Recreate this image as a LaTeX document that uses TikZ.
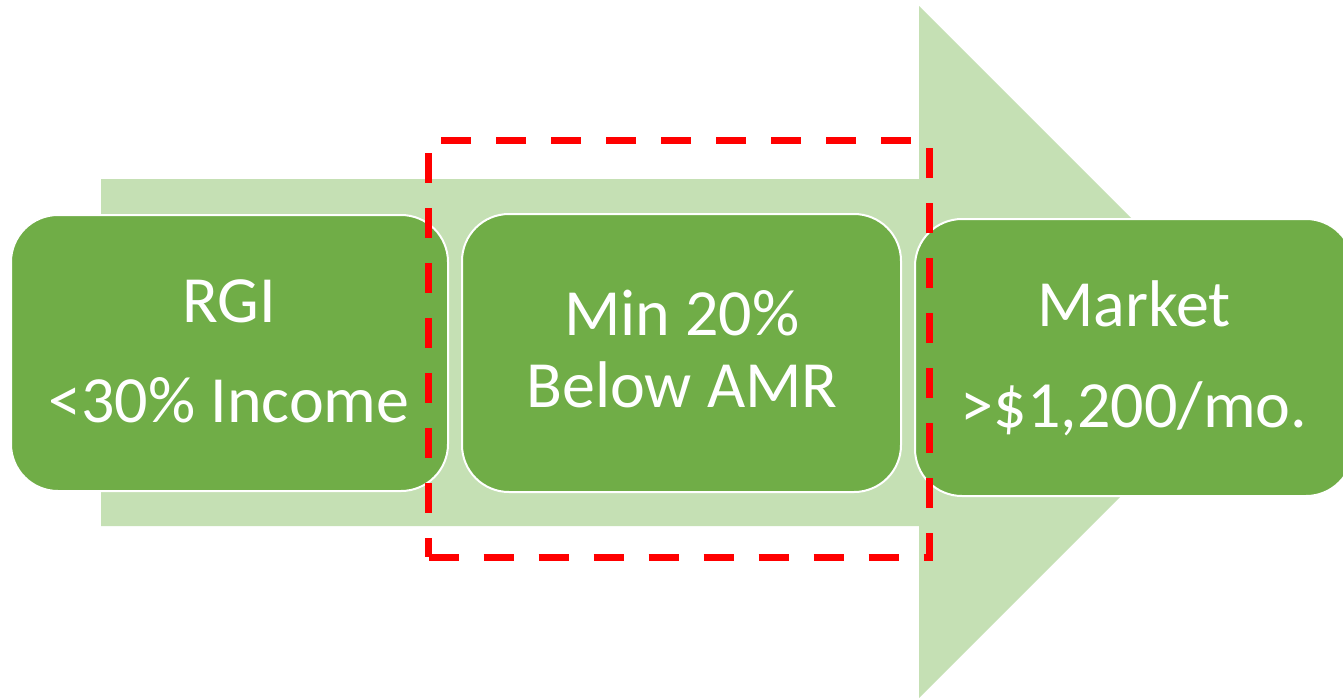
\documentclass[tikz,border=0pt]{standalone}
\usepackage{fontspec}
\setmainfont{Carlito}
\definecolor{arrowgreen}{HTML}{C5E0B4}
\definecolor{boxgreen}{HTML}{70AD47}
\definecolor{redline}{HTML}{FF0000}
\tikzset{
  stagebox/.style={rectangle, rounded corners=47pt, fill=boxgreen, draw=white, line width=2pt, inner sep=0pt},
  stagetext/.style={anchor=base, text=white, inner sep=0pt, font=\fontsize{66}{72}\selectfont},
  redframe/.style={rectangle, draw=redline, line width=7pt, dash pattern=on 30pt off 25pt, inner sep=0pt, miter limit=10},
}
\begin{document}
\begin{tikzpicture}[x=1pt,y=-1pt]
\clip (0,0) rectangle (1343,697);
\fill[white] (0,0) rectangle (1343,697);
% big arrow
\fill[arrowgreen] (101,179) -- (919,179) -- (919,6) -- (1265,352) -- (919,698) -- (919,526) -- (101,526) -- cycle;
% stage boxes
\node[stagebox, minimum width=437pt, minimum height=276pt] (rgi) at (229.5,353) {};
\node[stagebox, minimum width=439pt, minimum height=278pt] (mid) at (681.5,353) {};
\node[stagebox, minimum width=438pt, minimum height=277pt] (mkt) at (1134,357.5) {};
% texts
\node[stagetext] (rgi1) at (229,322) {RGI};
\node[stagetext] (rgi2) at (229,422) {<30\% Income};
\node[stagetext] (mid1) at (682,335) {Min 20\%};
\node[stagetext] (mid2) at (682,407) {Below AMR};
\node[stagetext] (mkt1) at (1134,326) {Market};
\node[stagetext] (mkt2) at (1134,427) {>\$1,200/mo.};
% red dashed frame
\node[redframe, minimum width=500.5pt, minimum height=416.5pt] (frame) at (678.75,348.75) {};
\end{tikzpicture}
\end{document}
